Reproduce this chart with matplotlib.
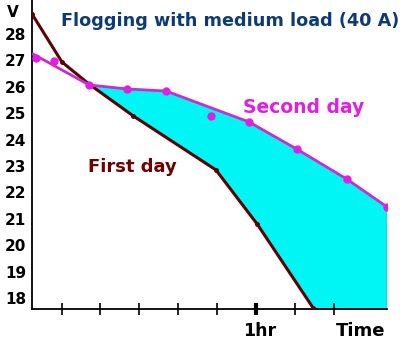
import matplotlib
matplotlib.use("Agg")
import matplotlib.pyplot as plt
import numpy as np

# ---- data (time in minutes, voltage in V) ----
first_day_t = [2.4, 10.1, 17.1, 28.4, 49.7, 60.3, 74.7]
first_day_v = [28.76, 26.94, 26.10, 24.90, 22.85, 20.80, 17.62]

second_day_t = [3.4, 8.1, 17.1, 26.8, 36.9, 48.4, 58.2, 70.5, 83.4, 93.7]
second_day_v = [27.09, 26.98, 26.07, 25.92, 25.84, 24.89, 24.67, 23.64, 22.50, 21.45]

# trend line drawn through the second-day readings
second_line_t = [2.7, 17.1, 26.8, 36.9, 58.2, 70.5, 83.4, 93.7]
second_line_v = [27.24, 26.07, 25.92, 25.84, 24.67, 23.64, 22.50, 21.45]

y_ticks = [18, 19, 20, 21, 22, 23, 24, 25, 26, 27, 28]
x_ticks = [10, 20, 30, 40, 50, 60, 70, 80]

title = "Flogging with medium load (40 A)"

XMIN, XMAX = 2.4, 93.7
YMIN, YMAX = 17.58, 29.29

fig = plt.figure(figsize=(4.15, 3.52), dpi=100)
ax = fig.add_axes([32/415, 43/352, 355/415, 309/352])
ax.set_xlim(XMIN, XMAX)
ax.set_ylim(YMIN, YMAX)

font = dict(family="DejaVu Sans", weight="bold")

# cyan region between the two days
ft = np.array(first_day_t); fv = np.array(first_day_v)
st = np.array(second_line_t); sv = np.array(second_line_v)
up_mask = st >= 17.1
lo_mask = ft >= 17.1
poly_t = np.concatenate([st[up_mask], [st[-1], ft[-1]], ft[lo_mask][::-1]])
poly_v = np.concatenate([sv[up_mask], [YMIN, YMIN], fv[lo_mask][::-1]])
ax.fill(poly_t, poly_v, color="#00f5f5", lw=0, zorder=1)
ax.plot([st[-1], st[-1]], [sv[-1], YMIN], color="black", lw=0.8, zorder=2)

# lines
ax.plot(first_day_t, first_day_v, color="#5e0000", lw=2.2, zorder=3,
        marker="o", ms=2.5, solid_capstyle="round")
ax.plot(second_line_t, second_line_v, color="#cc2ccc", lw=2.0, zorder=4)
ax.plot(second_day_t, second_day_v, ls="none", marker="o", ms=5,
        color="#e020e0", zorder=5)

# spines
for s in ["top", "right"]:
    ax.spines[s].set_visible(False)
ax.spines["left"].set_linewidth(1.3)
ax.spines["bottom"].set_linewidth(1.3)

ax.set_yticks(y_ticks)
ax.set_yticklabels([str(v) for v in y_ticks], fontsize=11, **font)
ax.tick_params(axis="y", length=0, pad=4)
ax.set_xticks(x_ticks)
ax.set_xticklabels([])
ax.tick_params(axis="x", direction="inout", length=9, width=1.2)
ticks = ax.xaxis.get_major_ticks()
ticks[5].tick1line.set_markeredgewidth(3)

fig.text(13/415, 1 - 17/352, "V", fontsize=11, ha="center", va="baseline", **font)
fig.text(230/415, 1 - 26/352, title, fontsize=12.7, color="#0f3b74",
         ha="center", va="baseline", **font)
ax.text(60.9, 16.56, "1hr", fontsize=12.5, ha="center", va="baseline", **font)
ax.text(87.0, 16.56, "Time", fontsize=13, ha="center", va="baseline", **font)
ax.text(72.3, 25.01, "Second day", fontsize=13.5, color="#e020e0",
        ha="center", va="baseline", **font)
ax.text(28.3, 22.77, "First day", fontsize=13, color="#6e0000",
        ha="center", va="baseline", **font)

fig.savefig("out.png", dpi=100)
